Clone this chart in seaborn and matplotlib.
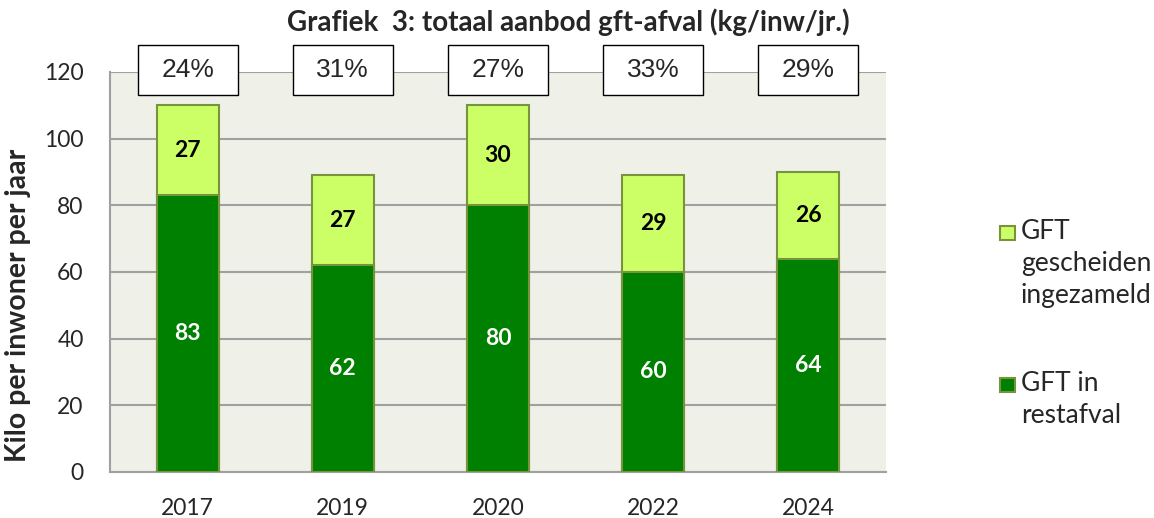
import numpy as np
import pandas as pd
import matplotlib
matplotlib.use("Agg")
import matplotlib.pyplot as plt
import seaborn as sns
from matplotlib.patches import Rectangle

# data
jaren = ["2017", "2019", "2020", "2022", "2024"]
gft_rest = [83, 62, 80, 60, 64]
gft_gescheiden = [27, 27, 30, 29, 26]
percentages = ["24%", "31%", "27%", "33%", "29%"]
legenda = ["GFT\ngescheiden\ningezameld", "GFT in\nrestafval"]

df = pd.DataFrame({"jaar": jaren, "rest": gft_rest, "gescheiden": gft_gescheiden})
df["totaal"] = df["rest"] + df["gescheiden"]

sns.set_theme(style="white")
plt.rcParams["font.family"] = ["Lato", "DejaVu Sans"]

donker = "#008000"
licht = "#CCFF66"
rand = "#77933C"
grijs = "#A0A0A0"

W, H = 1154, 518
fig = plt.figure(figsize=(W / 100, H / 100), dpi=100)
ax = fig.add_axes([110 / W, 1 - 472 / H, 776 / W, 400 / H])
ax.set_facecolor("#EFF1E9")

sns.barplot(data=df, x="jaar", y="totaal", color=licht, width=0.4,
            edgecolor=rand, linewidth=1.5, saturation=1, ax=ax, zorder=3)
sns.barplot(data=df, x="jaar", y="rest", color=donker, width=0.4,
            edgecolor=rand, linewidth=1.5, saturation=1, ax=ax, zorder=3)

# labels in de balken
for i, (r, g) in enumerate(zip(gft_rest, gft_gescheiden)):
    ax.text(i, r / 2, str(r), ha="center", va="center", color="white",
            fontsize=16.5, fontweight="bold", zorder=5)
    ax.text(i, r + g / 2, str(g), ha="center", va="center", color="black",
            fontsize=16.5, fontweight="bold", zorder=5)

# percentage kaders (100x50 px)
bw, bh = 100 / 155.2, 50 / 400 * 120
yc = 120.6
for i, p in enumerate(percentages):
    ax.add_patch(Rectangle((i - bw / 2, yc - bh / 2), bw, bh, facecolor="white",
                           edgecolor="black", lw=1, zorder=6, clip_on=False))
    ax.text(i, yc, p, ha="center", va="center", fontsize=19,
            family=["Liberation Sans"], zorder=7, clip_on=False)

ax.set_ylim(0, 120)
ax.set_xlim(-0.5, 4.5)
ax.set_yticks(range(0, 121, 20))
ax.yaxis.grid(True, color=grijs, linewidth=1.5, zorder=0)
ax.set_axisbelow(True)

# x-ticks tussen de categorieen
ax.set_xticks(np.arange(-0.5, 5, 1))
ax.set_xticklabels([])
ax.set_xticks(range(5), minor=True)
ax.set_xticklabels(jaren, minor=True)
ax.tick_params(axis="x", which="major", length=8, width=1.5, color=grijs, direction="out")
ax.tick_params(axis="x", which="minor", length=0, labelsize=16.5, pad=19)
ax.tick_params(axis="y", length=7, width=1.5, color=grijs, direction="out",
               labelsize=16.5, pad=12)

for s in ["top", "right"]:
    ax.spines[s].set_visible(False)
for s in ["left", "bottom"]:
    ax.spines[s].set_color(grijs)
    ax.spines[s].set_linewidth(1.5)

ax.set_xlabel("")
ax.set_ylabel("")
fig.text(18 / W, 1 - 305 / H, "Kilo per inwoner per jaar", rotation=90,
         ha="center", va="center", fontsize=20.5, fontweight="bold")

fig.text(568 / W, 1 - 22 / H, "Grafiek  3: totaal aanbod gft-afval (kg/inw/jr.)",
         ha="center", va="center", fontsize=20, fontweight="bold")

# legenda
for kleur, tekst, ytop in zip([licht, donker], legenda, [226, 378]):
    fig.add_artist(Rectangle((1000 / W, 1 - (ytop + 14) / H), 15 / W, 14 / H,
                             transform=fig.transFigure, facecolor=kleur,
                             edgecolor=rand, lw=1.5))
    fig.text(1021 / W, 1 - (ytop - 7) / H, tekst, ha="left", va="top",
             fontsize=19, linespacing=1.34)

fig.savefig("out.png", dpi=100)
